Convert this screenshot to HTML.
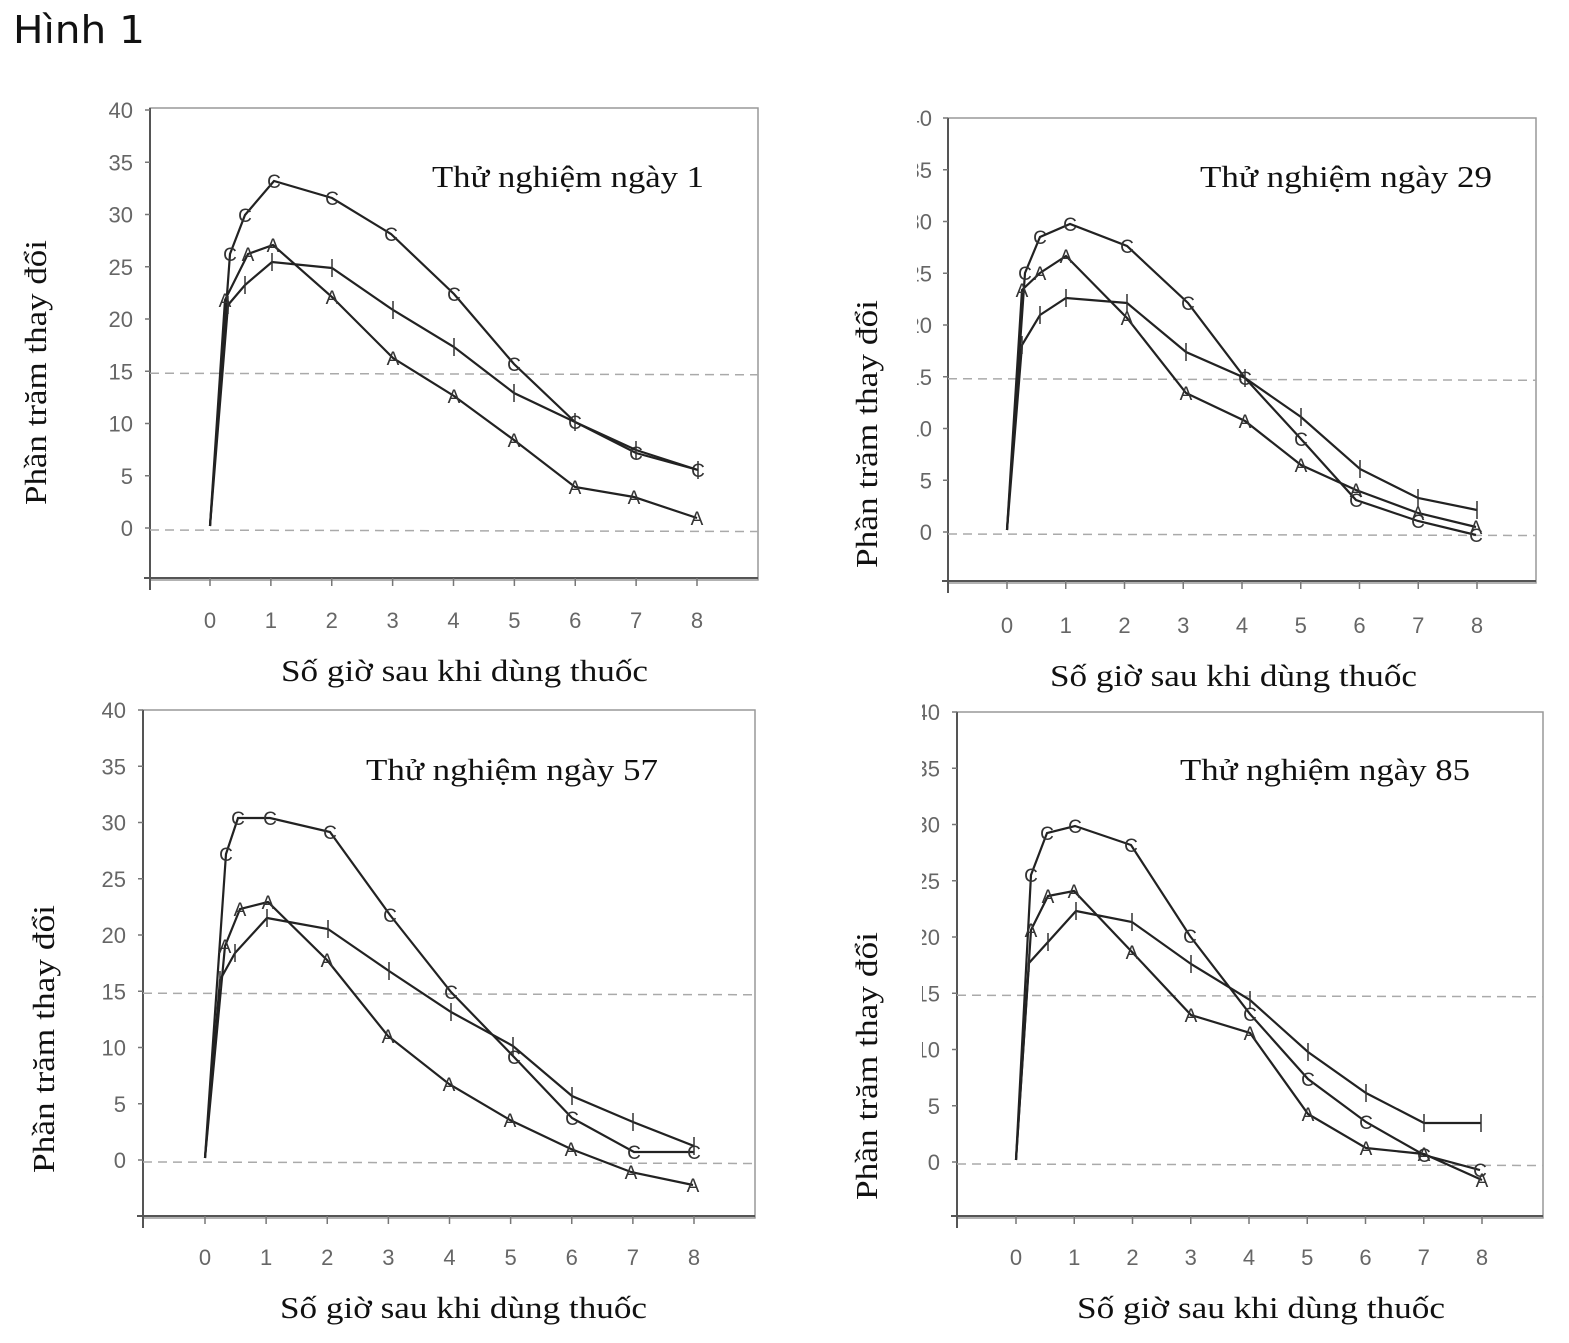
<!DOCTYPE html>
<html><head><meta charset="utf-8"><style>
body{margin:0;background:#fff;width:1569px;height:1343px;overflow:hidden}
svg{display:block}
.t{font-family:"Liberation Sans",sans-serif;font-size:22px;fill:#666}
.s{font-family:"Liberation Serif",serif;font-size:31px;fill:#111}
.m{font-family:"Liberation Sans",sans-serif;font-size:19px;fill:#333}
</style></head><body>
<svg id="g" width="1569" height="1343" xmlns="http://www.w3.org/2000/svg">
<text x="13" y="43" font-family="DejaVu Sans, sans-serif" font-size="38" fill="#111" textLength="132" lengthAdjust="spacingAndGlyphs">Hình 1</text>
<text class="s" x="432" y="187" textLength="272" lengthAdjust="spacingAndGlyphs">Thử nghiệm ngày 1</text>
<text class="s" x="1200" y="187" textLength="292" lengthAdjust="spacingAndGlyphs">Thử nghiệm ngày 29</text>
<text class="s" x="366" y="780" textLength="292" lengthAdjust="spacingAndGlyphs">Thử nghiệm ngày 57</text>
<text class="s" x="1180" y="780" textLength="290" lengthAdjust="spacingAndGlyphs">Thử nghiệm ngày 85</text>
<text class="s" x="281" y="681" textLength="367" lengthAdjust="spacingAndGlyphs">Số giờ sau khi dùng thuốc</text>
<text class="s" x="1050" y="686" textLength="367" lengthAdjust="spacingAndGlyphs">Số giờ sau khi dùng thuốc</text>
<text class="s" x="280" y="1318" textLength="367" lengthAdjust="spacingAndGlyphs">Số giờ sau khi dùng thuốc</text>
<text class="s" x="1077" y="1318" textLength="368" lengthAdjust="spacingAndGlyphs">Số giờ sau khi dùng thuốc</text>
<text class="s" transform="translate(46,505) rotate(-90)" textLength="265" lengthAdjust="spacingAndGlyphs">Phần trăm thay đổi</text>
<text class="s" transform="translate(877,568) rotate(-90)" textLength="268" lengthAdjust="spacingAndGlyphs">Phần trăm thay đổi</text>
<text class="s" transform="translate(54,1173) rotate(-90)" textLength="268" lengthAdjust="spacingAndGlyphs">Phần trăm thay đổi</text>
<text class="s" transform="translate(877,1200) rotate(-90)" textLength="268" lengthAdjust="spacingAndGlyphs">Phần trăm thay đổi</text>
<defs><clipPath id="c2"><rect x="917" y="0" width="700" height="1343"/></clipPath><clipPath id="c4"><rect x="922" y="0" width="700" height="1343"/></clipPath></defs>
</svg>
<script>
const NS="http://www.w3.org/2000/svg",g=document.getElementById('g');
function el(n,a,txt,par){const e=document.createElementNS(NS,n);for(const k in a)e.setAttribute(k,a[k]);if(txt!==undefined)e.textContent=txt;(par||g).appendChild(e);return e;}
const P=[
{x0:150,x1:758,y0:108,y1:580,yl:[110,528],xt:[210,697],lx:133,ly:620,clip:null,
 start:[210,526],
 C:[[230,254],[245,215],[274,181],[332,198],[391,234],[454,294],[514,364],[575,422],[636,453],[698,470]],
 A:[[225,300],[248,254],[273,245],[332,297],[393,358],[454,396],[514,440],[575,487],[634,497],[697,518]],
 I:[[228,305],[245,285],[272,262],[332,268],[393,310],[454,347],[514,393],[575,422],[636,450],[698,470]]},
{x0:948,x1:1536,y0:118,y1:583,yl:[118,532],xt:[1007,1477],lx:932,ly:625,clip:'c2',
 start:[1007,530],
 C:[[1025,273],[1040,237],[1070,224],[1127,246],[1188,303],[1245,378],[1301,439],[1356,500],[1418,521],[1476,535]],
 A:[[1022,290],[1040,273],[1066,256],[1127,318],[1186,393],[1245,421],[1301,465],[1356,490],[1418,513],[1476,527]],
 I:[[1022,345],[1040,315],[1066,298],[1127,303],[1186,352],[1245,378],[1301,417],[1360,469],[1418,498],[1477,510]]},
{x0:143,x1:755,y0:710,y1:1218,yl:[710,1160],xt:[205,694],lx:126,ly:1257,clip:null,
 start:[205,1158],
 C:[[226,854],[238,818],[270,818],[330,832],[390,915],[451,992],[514,1057],[572,1118],[634,1152],[694,1152]],
 A:[[225,946],[240,909],[268,902],[327,960],[388,1036],[449,1084],[510,1120],[571,1149],[631,1172],[693,1185]],
 I:[[220,980],[235,953],[267,918],[328,929],[389,971],[451,1012],[513,1046],[572,1096],[633,1122],[694,1146]]},
{x0:957,x1:1543,y0:712,y1:1218,yl:[712,1162],xt:[1016,1482],lx:940,ly:1257,clip:'c4',
 start:[1016,1160],
 C:[[1031,875],[1047,833],[1075,826],[1131,845],[1190,936],[1250,1014],[1308,1079],[1366,1122],[1424,1155],[1480,1170]],
 A:[[1031,930],[1048,896],[1074,891],[1132,952],[1191,1015],[1250,1033],[1308,1114],[1366,1148],[1424,1154],[1482,1180]],
 I:[[1029,963],[1048,942],[1076,911],[1132,922],[1191,964],[1250,1000],[1308,1052],[1366,1093],[1424,1123],[1481,1123]]}];
P.forEach((p,pi)=>{
 el('rect',{x:p.x0,y:p.y0,width:p.x1-p.x0,height:p.y1-p.y0,fill:'none',stroke:'#999','stroke-width':1.5});
 el('line',{x1:p.x0,y1:p.y0,x2:p.x0,y2:p.y1+10,stroke:'#555','stroke-width':2});
 el('line',{x1:p.x0-6,y1:p.y1-2,x2:p.x1,y2:p.y1-2,stroke:'#555','stroke-width':2});
 const dy=(p.yl[1]-p.yl[0])/8, dx=(p.xt[1]-p.xt[0])/8;
 const grp=p.clip?el('g',{'clip-path':'url(#'+p.clip+')'}):g;
 for(let i=0;i<=8;i++){const y=p.yl[0]+i*dy;
  el('text',{class:'t',x:p.lx,y:y+8,'text-anchor':'end'},String(40-5*i),grp);
  el('line',{x1:p.x0-5,y1:y,x2:p.x0,y2:y,stroke:'#777','stroke-width':1.5});
  const x=p.xt[0]+i*dx;
  el('text',{class:'t',x:x,y:p.ly+8,'text-anchor':'middle'},String(i));
  el('line',{x1:x,y1:p.y1-2,x2:x,y2:p.y1+6,stroke:'#777','stroke-width':1.5});}
 [15,0].forEach(v=>{const y=p.yl[0]+(40-v)/5*dy+2;
  el('line',{x1:p.x0,y1:y,x2:p.x1,y2:y+1.5,stroke:'#aaa','stroke-width':1.5,'stroke-dasharray':'9,6'});});
 ['C','A','I'].forEach(k=>{
  const pts=[p.start].concat(p[k]);
  el('polyline',{points:pts.map(q=>q.join(',')).join(' '),fill:'none',stroke:'#222','stroke-width':2.2});
  p[k].forEach(q=>{
   if(k==='I') el('line',{x1:q[0],y1:q[1]-9,x2:q[0],y2:q[1]+9,stroke:'#333','stroke-width':1.5});
   else el('text',{class:'m',x:q[0],y:q[1]+7,'text-anchor':'middle'},k);
  });
 });
});
</script>
</body></html>
